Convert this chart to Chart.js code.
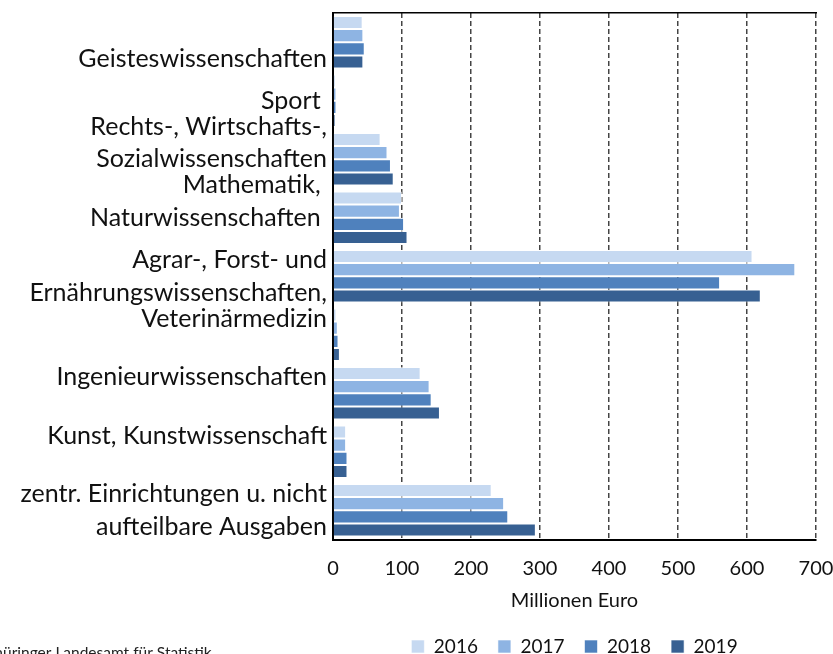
<!DOCTYPE html>
<html>
<head>
<meta charset="utf-8">
<script src="https://cdn.jsdelivr.net/npm/chart.js@4.4.0/dist/chart.umd.min.js"></script>
<style>
html,body{margin:0;padding:0;background:#fff;}
#wrap{width:833px;height:654px;position:relative;overflow:hidden;}
</style>
</head>
<body>
<div id="wrap"><canvas id="c" width="833" height="654"></canvas></div>
<script>
const categories = [
  ["", "Geisteswissenschaften"],
  "Sport ",
  ["Rechts-, Wirtschafts-,", "Sozialwissenschaften", ""],
  ["Mathematik, ", "Naturwissenschaften ", ""],
  ["Agrar-, Forst- und", "Ernährungswissenschaften,"],
  ["Veterinärmedizin", ""],
  ["Ingenieurwissenschaften", ""],
  ["Kunst, Kunstwissenschaft", ""],
  ["zentr. Einrichtungen u. nicht", "aufteilbare Ausgaben"]
];
const years = ["2016", "2017", "2018", "2019"];
const values2016 = [43, 4, 69, 100, 608, 5, 127, 19, 230];
const values2017 = [44, 5, 79, 97, 670, 7, 140, 19, 248];
const values2018 = [46, 5, 84, 103, 561, 8, 143, 21, 254];
const values2019 = [44, 3.5, 88, 108, 620, 10, 155, 21, 294];
const xTicks = [0, 100, 200, 300, 400, 500, 600, 700];
const colors = ["#C6D9F1", "#8EB4E3", "#4F81BD", "#376092"];
const FONT = "Lato";

const sourcePlugin = {
  id: 'source',
  afterDraw(chart) {
    const ctx = chart.ctx;
    ctx.save();
    ctx.font = "15.5px " + FONT;
    ctx.fillStyle = "#222";
    ctx.textBaseline = "alphabetic";
    const pre = ctx.measureText("Quelle: Th").width;
    ctx.fillText("Quelle: Thüringer Landesamt für Statistik", 3 - pre, 658);
    ctx.restore();
  }
};

function zeroPad(scale) {
  scale.paddingTop = 0; scale.paddingBottom = 0;
  scale.paddingLeft = 0; scale.paddingRight = 0;
}

new Chart(document.getElementById('c'), {
  type: 'bar',
  data: {
    labels: categories,
    datasets: [values2016, values2017, values2018, values2019].map((d, i) => ({
      label: years[i],
      data: d,
      backgroundColor: colors[i],
      borderColor: 'rgba(255,255,255,0.6)',
      borderWidth: 1,
      categoryPercentage: 0.9,
      barPercentage: 1.0
    }))
  },
  options: {
    indexAxis: 'y',
    responsive: false,
    animation: false,
    layout: { padding: { top: 13, right: 17, left: 0, bottom: -12 } },
    plugins: {
      legend: {
        position: 'bottom',
        fullSize: false,
        labels: {
          font: { family: FONT, size: 19 },
          color: '#111',
          boxWidth: 13,
          boxHeight: 13,
          padding: 20
        }
      },
      tooltip: { enabled: false }
    },
    scales: {
      x: {
        min: 0, max: 700,
        afterBuildTicks(scale) { scale.ticks = xTicks.map(v => ({ value: v })); },
        afterFit(scale) { zeroPad(scale); scale.height = 77.5; },
        grid: {
          color: ctx => (ctx.tick && ctx.tick.value === 0) ? 'rgba(0,0,0,0)' : '#444',
          lineWidth: 1.5,
          drawTicks: false
        },
        border: { display: true, color: '#000', width: 2, dash: [5, 3] },
        ticks: {
          font: { family: FONT, size: 20 },
          color: '#111',
          padding: 17
        },
        title: {
          display: true,
          text: 'Millionen Euro',
          font: { family: FONT, size: 20 },
          color: '#111',
          padding: { top: 0, bottom: 4.5 }
        }
      },
      x2: {
        position: 'top',
        min: 0, max: 700,
        afterFit(scale) { zeroPad(scale); scale.height = 0; },
        grid: { display: false, drawTicks: false },
        ticks: { display: false },
        border: { display: true, color: '#000', width: 1.5 }
      },
      y: {
        grid: { display: false, drawTicks: false },
        border: { display: true, color: '#000', width: 2 },
        afterFit(scale) { zeroPad(scale); scale.width = 333; },
        ticks: {
          font: { family: FONT, size: 25, lineHeight: 1.3 },
          color: '#111',
          padding: 6,
          autoSkip: false
        }
      }
    }
  },
  plugins: [sourcePlugin]
});
</script>
</body>
</html>
